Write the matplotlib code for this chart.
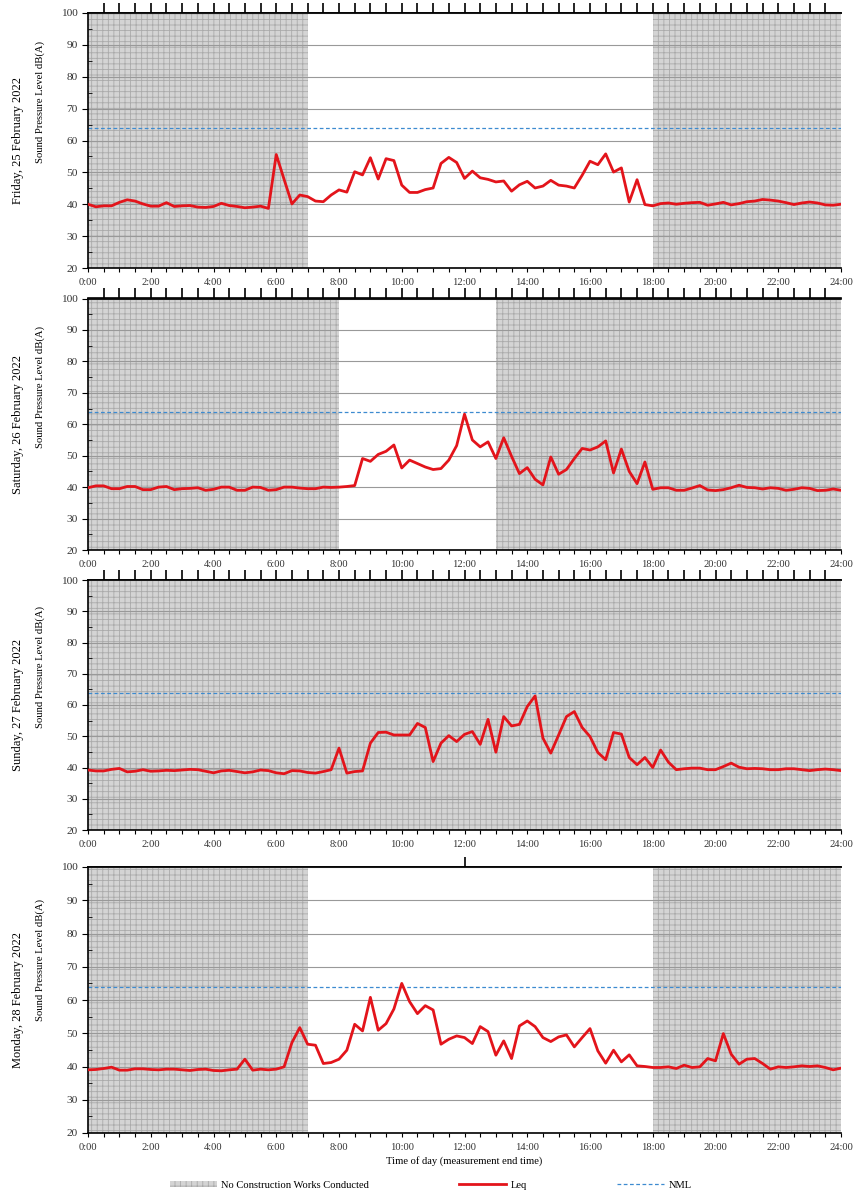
import numpy as np
import matplotlib.pyplot as plt
from matplotlib.patches import Patch
from matplotlib.lines import Line2D
from matplotlib.ticker import MultipleLocator

plt.rcParams['font.family'] = ['Liberation Serif', 'DejaVu Serif']
plt.rcParams['hatch.linewidth'] = 0.6

# 15 minute Leq values, 0:00 -> 24:00
hours = np.arange(97) * 0.25

leq_fri = [40.0, 39.2, 39.5, 39.5, 40.6, 41.4, 41.0, 40.1, 39.4, 39.4, 40.5, 39.3,
           39.5, 39.6, 39.1, 39.0, 39.3, 40.3, 39.6, 39.3, 38.9, 39.1, 39.4, 38.7,
           55.6, 47.8, 40.1, 42.9, 42.4, 41.0, 40.8, 42.9, 44.5, 43.8, 50.2, 49.2,
           54.6, 47.9, 54.3, 53.7, 46.0, 43.7, 43.7, 44.6, 45.1, 52.8, 54.7, 53.1,
           48.1, 50.4, 48.3, 47.8, 47.0, 47.3, 44.1, 46.1, 47.2, 45.1, 45.7, 47.5,
           46.0, 45.7, 45.1, 49.1, 53.5, 52.4, 55.8, 50.1, 51.4, 40.7, 47.7, 39.9,
           39.5, 40.2, 40.4, 40.0, 40.3, 40.5, 40.6, 39.7, 40.1, 40.6, 39.8, 40.2,
           40.8, 41.0, 41.5, 41.3, 41.0, 40.5, 39.9, 40.4, 40.7, 40.4, 39.8, 39.7,
           40.0]
leq_sat = [39.8, 40.4, 40.4, 39.5, 39.5, 40.2, 40.2, 39.2, 39.2, 40.0, 40.2, 39.2,
           39.5, 39.6, 39.8, 39.0, 39.3, 40.0, 40.0, 39.0, 39.0, 40.0, 39.9, 39.0,
           39.2, 40.0, 40.0, 39.7, 39.5, 39.5, 40.0, 39.9, 40.0, 40.2, 40.5,
           49.1, 48.2, 50.4, 51.4, 53.4, 46.1, 48.6, 47.5, 46.4, 45.6, 45.9, 48.6,
           53.2, 63.2, 55.0, 52.8, 54.4, 49.1, 55.7, 49.8, 44.3, 46.2, 42.5, 40.7,
           49.6, 44.1, 45.6, 49.1, 52.3, 51.8, 52.8, 54.7, 44.5, 52.1, 45.0, 41.1,
           48.0, 39.3, 39.8, 39.8, 39.0, 39.0, 39.7, 40.5, 39.1, 38.9, 39.2, 39.8,
           40.6, 39.9, 39.8, 39.4, 39.8, 39.6, 39.0, 39.3, 39.8, 39.6, 38.9, 39.0,
           39.4, 39.0]
leq_sun = [39.2, 38.9, 38.9, 39.4, 39.7, 38.6, 38.8, 39.3, 38.8, 38.9, 39.1, 39.0,
           39.2, 39.4, 39.3, 38.8, 38.3, 38.9, 39.1, 38.7, 38.3, 38.6, 39.2, 39.0,
           38.3, 38.0, 39.0, 38.9, 38.4, 38.2, 38.7, 39.3, 46.2, 38.2, 38.7, 38.9,
           47.8, 51.2, 51.3, 50.4, 50.4, 50.4, 54.1, 52.8, 41.9, 47.8, 50.2, 48.3,
           50.6, 51.5, 47.4, 55.4, 44.9, 56.3, 53.3, 53.8, 59.5, 62.9, 49.4, 44.6,
           50.4, 56.3, 57.9, 52.8, 49.9, 44.8, 42.5, 51.2, 50.7, 43.2, 40.9, 43.2,
           40.0, 45.6, 41.7, 39.3, 39.6, 39.8, 39.8, 39.3, 39.3, 40.3, 41.4, 40.1,
           39.6, 39.7, 39.6, 39.3, 39.3, 39.6, 39.6, 39.3, 39.0, 39.3, 39.5, 39.3,
           39.0]
leq_mon = [39.0, 39.1, 39.4, 39.8, 38.9, 38.9, 39.3, 39.3, 39.1, 39.0, 39.2, 39.2,
           39.0, 38.8, 39.1, 39.2, 38.8, 38.7, 39.0,
           39.2, 42.2, 38.9, 39.2, 39.0, 39.2, 39.9, 47.2, 51.7, 46.7, 46.4, 40.9,
           41.2, 42.2, 44.9, 52.7, 50.7, 60.8, 50.9, 52.9, 57.3, 65.0, 59.5, 55.9,
           58.3, 57.0, 46.7, 48.2, 49.2, 48.7, 46.9, 52.0, 50.5, 43.4, 47.7, 42.4,
           52.2, 53.7, 52.0,
           48.7, 47.5, 48.9, 49.5, 45.9, 48.7, 51.4, 44.7, 41.0, 44.9, 41.4, 43.5,
           40.2, 40.0, 39.7, 39.7, 39.9, 39.4, 40.4, 39.7, 39.9, 42.4, 41.7, 49.9,
           43.7, 40.7, 42.2, 42.4, 40.9, 39.2, 39.9, 39.7, 39.9, 40.2, 40.0, 40.2,
           39.7, 39.0, 39.5]

day_names = ['Friday, 25 February 2022', 'Saturday, 26 February 2022',
             'Sunday, 27 February 2022', 'Monday, 28 February 2022']
levels = [leq_fri, leq_sat, leq_sun, leq_mon]
# periods with no construction works (hours)
no_works = [[(0, 7), (18, 24)],
            [(0, 8), (13, 24)],
            [(0, 24)],
            [(0, 7), (18, 24)]]
nml = 64
xtick_pos = list(range(0, 25, 2))
xtick_lab = ['%d:00' % h for h in xtick_pos]

# panel rows in pixels (top, bottom) for a 856x1196 figure
W, H = 856, 1196
rows = [(13, 268), (298.5, 550), (580, 830), (867, 1133)]
left_px, right_px = 88, 841

shade_face = '#d4d4d4'
shade_hatch = '#aaaaaa'
red = '#e3141b'
blue = '#3d8bd0'

fig = plt.figure(figsize=(W / 100, H / 100), dpi=100)

for i in range(4):
    top, bot = rows[i]
    ax = fig.add_axes([left_px / W, 1 - bot / H, (right_px - left_px) / W, (bot - top) / H])
    for a, b in no_works[i]:
        ax.axvspan(a, b, facecolor=shade_face, edgecolor=shade_hatch, hatch='+++',
                   linewidth=0, zorder=0)
    ax.axhline(nml, color=blue, ls=(0, (3, 2)), lw=0.9, zorder=2)
    ax.plot(hours, levels[i], color=red, lw=2, zorder=3)

    ax.set_xlim(0, 24)
    ax.set_ylim(20, 100)
    ax.set_xticks(xtick_pos)
    ax.set_xticklabels(xtick_lab, fontsize=7.6, color='#333333')
    ax.xaxis.set_minor_locator(MultipleLocator(0.5))
    ax.yaxis.set_major_locator(MultipleLocator(10))
    ax.yaxis.set_minor_locator(MultipleLocator(5))
    ax.tick_params(axis='y', which='major', direction='out', length=4, labelsize=8.2,
                   labelcolor='#333333')
    ax.tick_params(axis='y', which='minor', direction='in', length=3)
    ax.tick_params(axis='x', which='both', direction='out', length=3, width=0.8, pad=4)
    ax.grid(axis='y', which='major', color='#999999', lw=0.8, zorder=1)

    for s in ['left', 'bottom', 'top']:
        ax.spines[s].set_linewidth(1.2)
    ax.spines['right'].set_visible(False)

    # long tick marks above the plotting area
    sec = ax.secondary_xaxis('top')
    if i < 3:
        sec.set_xticks(np.arange(0.5, 24, 0.5))
    else:
        sec.set_xticks([12])
    sec.set_xticklabels([])
    sec.tick_params(length=7, width=1.2, direction='out')
    sec.spines['top'].set_linewidth(1.2)

    ax.set_ylabel('Sound Pressure Level dB(A)', fontsize=7.7)
    ax.yaxis.set_label_coords(-0.057, 0.65)
    fig.text(18 / W, 1 - (top + bot) / 2 / H, day_names[i], rotation=90,
             ha='center', va='center', fontsize=9)
    if i == 3:
        ax.set_xlabel('Time of day (measurement end time)', fontsize=7.6, labelpad=3)

handles = [Patch(facecolor=shade_face, edgecolor=shade_hatch, hatch='+++', linewidth=0),
           Line2D([], [], color=red, lw=2),
           Line2D([], [], color=blue, lw=0.9, ls=(0, (3, 2)))]
labels = ['No Construction Works Conducted', 'Leq', 'NML']
fig.legend(handles, labels, loc='center', bbox_to_anchor=(0.503, 1 - 1185 / H), ncol=3,
           frameon=False, fontsize=7.6, handlelength=4.5, handleheight=0.5,
           columnspacing=8.5, handletextpad=0.4)

fig.savefig('out.png', dpi=100)
